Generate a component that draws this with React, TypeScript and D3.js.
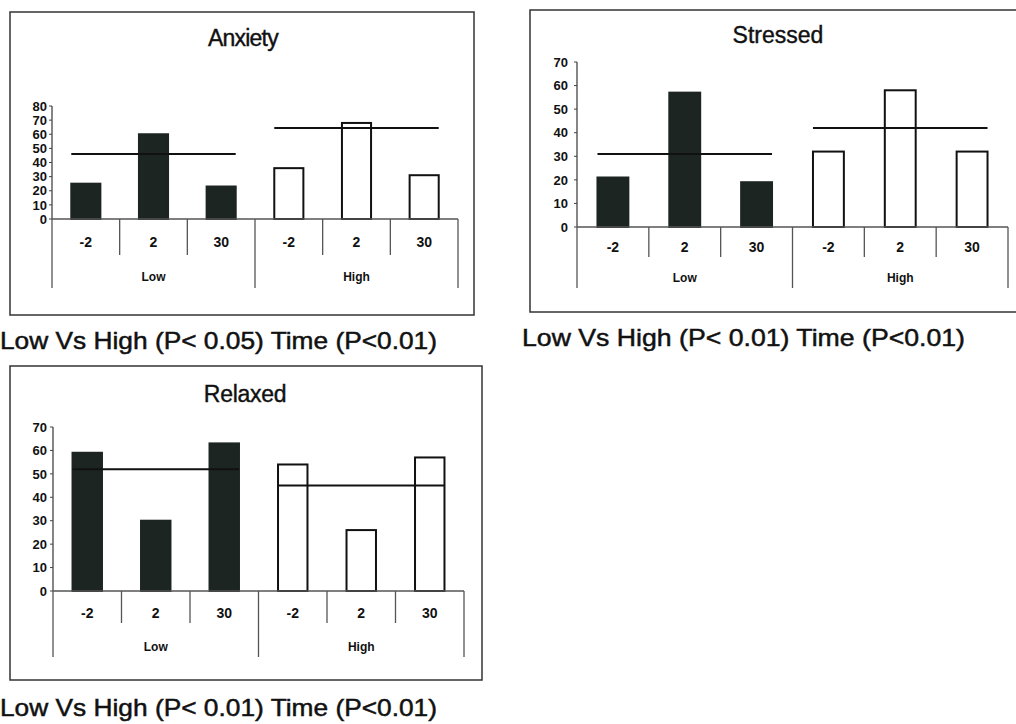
import React from 'react';
import * as d3 from 'd3';

// categories
const groups = ['Low', 'High'];
const times = ['-2', '2', '30'];

// Anxiety
const anxietyLow = [25, 60, 23];
const anxietyHigh = [36, 68, 31];
const anxietyMeans = [46, 64.5];
const anxietyTicks = [0, 10, 20, 30, 40, 50, 60, 70, 80];

// Stressed
const stressedLow = [21, 57, 19];
const stressedHigh = [32, 58, 32];
const stressedMeans = [31, 42];
const stressedTicks = [0, 10, 20, 30, 40, 50, 60, 70];

// Relaxed
const relaxedLow = [59, 30, 63];
const relaxedHigh = [54, 26, 57];
const relaxedMeans = [52, 45];
const relaxedTicks = [0, 10, 20, 30, 40, 50, 60, 70];

const captions = [
  'Low Vs High (P< 0.05) Time (P<0.01)',
  'Low Vs High (P< 0.01) Time (P<0.01)',
  'Low Vs High (P< 0.01) Time (P<0.01)',
];

const DARK = '#1c2521';
const FONT = "'Liberation Sans', Arial, sans-serif";

type Layout = {
  box: [number, number, number, number]; // x, y, w, h
  x0: number; x1: number; zero: number; top: number;
  innerDiv: number; groupDiv: number; tickY: number; groupY: number;
  titleX: number; titleY: number; titleSpacing: number;
  labelGap: number; tickFont: number;
  capX: number; capY: number; capLen: number;
};

function Panel({ title, low, high, means, ticks, caption, L }: {
  title: string; low: number[]; high: number[]; means: number[];
  ticks: number[]; caption: string; L: Layout;
}) {
  const cells = groups.flatMap(g => times.map(t => `${g}|${t}`));
  const x = d3.scaleBand<string>().domain(cells).range([L.x0, L.x1]).padding(0);
  const y = d3.scaleLinear().domain([0, ticks[ticks.length - 1]]).range([L.zero, L.top]);
  const bw = x.bandwidth() * 0.43;
  const barX = (g: string, t: string) => (x(`${g}|${t}`) as number) + (x.bandwidth() - bw) / 2;
  const series = [low, high];

  const dividers = cells.map(c => x(c) as number).concat([L.x1]);

  return (
    <g>
      <rect x={L.box[0]} y={L.box[1]} width={L.box[2]} height={L.box[3]}
        fill="white" stroke="#333" strokeWidth={1.5} />
      <text x={L.titleX} y={L.titleY} textAnchor="middle" fontSize={23}
        letterSpacing={L.titleSpacing} fill="#111" stroke="#111" strokeWidth={0.4}
        fontFamily={FONT}>{title}</text>

      {/* y axis */}
      <line x1={L.x0} x2={L.x0} y1={L.top} y2={L.zero} stroke="#444" strokeWidth={1.3} />
      {ticks.map(t => (
        <g key={t}>
          <line x1={L.x0 - 3} x2={L.x0} y1={y(t)} y2={y(t)} stroke="#444" strokeWidth={1} />
          <text x={L.x0 - L.labelGap} y={y(t)} dy="0.36em" textAnchor="end" fontSize={L.tickFont}
            fontWeight="bold" fill="#111" fontFamily={FONT}>{t}</text>
        </g>
      ))}

      {/* bars */}
      {groups.map((g, gi) => times.map((t, ti) => (
        <rect key={`${g}${t}`} x={barX(g, t)} y={y(series[gi][ti])} width={bw}
          height={L.zero - y(series[gi][ti])}
          fill={gi === 0 ? DARK : 'white'} stroke={gi === 0 ? DARK : '#111'} strokeWidth={2} />
      )))}

      {/* group mean lines */}
      {groups.map((g, gi) => (
        <line key={g} x1={barX(g, times[0])} x2={barX(g, times[times.length - 1]) + bw}
          y1={y(means[gi])} y2={y(means[gi])} stroke="#111" strokeWidth={2} />
      ))}

      {/* category table */}
      <line x1={L.x0} x2={L.x1} y1={L.zero} y2={L.zero} stroke="#555" strokeWidth={1.3} />
      {dividers.map((d, i) => (
        <line key={i} x1={d} x2={d} y1={L.zero} y2={i % times.length === 0 ? L.groupDiv : L.innerDiv}
          stroke="#555" strokeWidth={1.3} />
      ))}
      {cells.map(c => (
        <text key={c} x={(x(c) as number) + x.bandwidth() / 2} y={L.tickY} dy="0.36em"
          textAnchor="middle" fontSize={14} fontWeight="bold" fill="#111" fontFamily={FONT}>
          {c.split('|')[1]}
        </text>
      ))}
      {groups.map((g, gi) => (
        <text key={g} x={(dividers[gi * 3] + dividers[gi * 3 + 3]) / 2} y={L.groupY} dy="0.36em"
          textAnchor="middle" fontSize={12} fontWeight="bold" fill="#111" fontFamily={FONT}>{g}</text>
      ))}

      <text x={L.capX} y={L.capY} fontSize={24.5} fill="#111" stroke="#111" strokeWidth={0.5}
        fontFamily={FONT} textLength={L.capLen} lengthAdjust="spacingAndGlyphs">{caption}</text>
    </g>
  );
}

const anxietyLayout: Layout = {
  box: [10, 12, 464, 303], x0: 52, x1: 458, zero: 219, top: 106,
  innerDiv: 255, groupDiv: 288, tickY: 242, groupY: 277,
  titleX: 243, titleY: 46, titleSpacing: -0.8, labelGap: 5, tickFont: 13,
  capX: 0, capY: 349, capLen: 437,
};
const stressedLayout: Layout = {
  box: [530, 10, 500, 302], x0: 577, x1: 1008, zero: 227, top: 62,
  innerDiv: 257, groupDiv: 288, tickY: 247, groupY: 278,
  titleX: 778, titleY: 43, titleSpacing: 0, labelGap: 9, tickFont: 13,
  capX: 522, capY: 346, capLen: 443,
};
const relaxedLayout: Layout = {
  box: [10, 366, 472, 314], x0: 53, x1: 464, zero: 591, top: 427,
  innerDiv: 623, groupDiv: 657, tickY: 613, groupY: 647,
  titleX: 245, titleY: 402, titleSpacing: -0.3, labelGap: 6, tickFont: 13,
  capX: 0, capY: 716, capLen: 437,
};

export default function App() {
  return (
    <div style={{ position: 'absolute', left: 0, top: 0 }}>
      <svg width={1016} height={724} style={{ display: 'block', background: 'white' }}>
        <Panel title="Anxiety" low={anxietyLow} high={anxietyHigh} means={anxietyMeans}
          ticks={anxietyTicks} caption={captions[0]} L={anxietyLayout} />
        <Panel title="Stressed" low={stressedLow} high={stressedHigh} means={stressedMeans}
          ticks={stressedTicks} caption={captions[1]} L={stressedLayout} />
        <Panel title="Relaxed" low={relaxedLow} high={relaxedHigh} means={relaxedMeans}
          ticks={relaxedTicks} caption={captions[2]} L={relaxedLayout} />
      </svg>
    </div>
  );
}
